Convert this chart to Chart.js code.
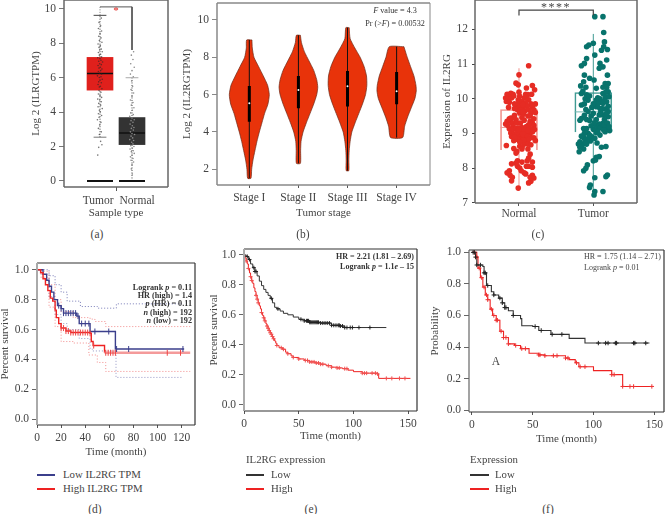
<!DOCTYPE html>
<html>
<head>
<meta charset="utf-8">
<script src="https://cdn.jsdelivr.net/npm/chart.js@4"></script>
<style>
  html, body { margin:0; padding:0; background:#fff; overflow:hidden; }
  body { width:669px; height:514px; position:relative; font-family:"Liberation Serif",serif; color:#444; }
  canvas { position:absolute; }
  .t { position:absolute; white-space:nowrap; font-size:10.8px; line-height:14px; transform:translateY(-50%); }
  .c { transform:translate(-50%,-50%); }
  .r { transform:translate(-100%,-50%); }
  .n { font-size:8.2px; line-height:10px; }
  .b { font-weight:bold; color:#333; }
  .sw { position:absolute; height:1.5px; }
</style>
</head>
<body>
<canvas id="a"></canvas><canvas id="b"></canvas><canvas id="c"></canvas>
<canvas id="d"></canvas><canvas id="e"></canvas><canvas id="f"></canvas>

<div class="t c" style="left:97px;top:234px;font-size:11.5px">(a)</div>
<div class="t c" style="left:303px;top:234px;font-size:11.5px">(b)</div>
<div class="t c" style="left:538px;top:234px;font-size:11.5px">(c)</div>
<div class="t c" style="left:95px;top:509px;font-size:11.5px">(d)</div>
<div class="t c" style="left:311px;top:509px;font-size:11.5px">(e)</div>
<div class="t c" style="left:548px;top:509px;font-size:11.5px">(f)</div>

<div class="t c" style="left:116px;top:10px;color:#e0201c;font-size:11px">*</div>
<div class="t n c" style="left:395px;top:11px;color:#333"><i>F</i> value = 4.3</div>
<div class="t n c" style="left:395px;top:24px;color:#333">Pr (&gt;<i>F</i>) = 0.00532</div>
<div class="t c" style="left:556px;top:7px;font-size:12px;letter-spacing:1.5px">****</div>

<div class="t n b r" style="left:192px;top:288px">Logrank <i>p</i> = 0.11</div>
<div class="t n b r" style="left:192px;top:296px">HR (high) = 1.4</div>
<div class="t n b r" style="left:192px;top:304px"><i>p</i> (HR) = 0.11</div>
<div class="t n b r" style="left:192px;top:313px"><i>n</i> (high) = 192</div>
<div class="t n b r" style="left:192px;top:321px"><i>n</i> (low) = 192</div>
<div class="t n b r" style="left:414px;top:257px;font-size:8px">HR = 2.21 (1.81 – 2.69)</div>
<div class="t n b r" style="left:414px;top:267px;font-size:8px">Logrank <i>p</i> = 1.1<i>e</i> – 15</div>
<div class="t n" style="left:584px;top:257px;font-size:8px">HR = 1.75 (1.14 – 2.71)</div>
<div class="t n" style="left:584px;top:268px;font-size:8px">Logrank <i>p</i> = 0.01</div>
<div class="t c" style="left:496px;top:361px;font-size:11.5px">A</div>

<div class="sw" style="left:37px;top:474px;width:18px;background:#3b3f8c"></div>
<div class="t" style="left:63px;top:474px">Low IL2RG TPM</div>
<div class="sw" style="left:37px;top:488px;width:18px;background:#ee2222"></div>
<div class="t" style="left:63px;top:488px">High IL2RG TPM</div>

<div class="t" style="left:246px;top:459px">IL2RG expression</div>
<div class="sw" style="left:246px;top:474px;width:18px;background:#333"></div>
<div class="t" style="left:271px;top:474px">Low</div>
<div class="sw" style="left:246px;top:488px;width:18px;background:#ee2222"></div>
<div class="t" style="left:271px;top:488px">High</div>

<div class="t" style="left:470px;top:459px">Expression</div>
<div class="sw" style="left:470px;top:474px;width:19px;background:#333"></div>
<div class="t" style="left:495px;top:474px">Low</div>
<div class="sw" style="left:470px;top:488px;width:19px;background:#ee2222"></div>
<div class="t" style="left:495px;top:488px">High</div>

<script>
// (a) box plot
const aGroups = [1, 2];
const aQ1 = [5.27, 2.11];
const aQ3 = [7.17, 3.68];
const aMedian = [6.24, 2.79];
const aWhiskerHigh = [9.61, 5.99];
const aWhiskerLow = [2.54, 0];
const aTumorDots = [[1.04,9.45],[.97,9.2],[1.02,9.0],[.95,8.85],[1.05,8.7],[1,8.55],[.96,8.4],[1.03,8.3],[.98,8.15],[1.06,8.05],[.94,7.95],[1.01,7.85],
  [.97,7.75],[1.04,7.65],[.99,7.6],[1.07,7.5],[.95,7.45],[1.02,7.35],[.98,7.3],[1.05,7.2],[.93,7.15],[1,7.1],[1.03,7.0],[.96,6.95],[1.08,6.9],[.99,6.8],
  [1.04,6.75],[.94,6.7],[1.01,6.6],[.97,6.55],[1.06,6.5],[1.02,6.4],[.95,6.35],[.99,6.25],[1.05,6.2],[.92,6.1],[1.03,6.05],[.98,6.0],[1.07,5.9],[1,5.85],
  [.96,5.75],[1.04,5.7],[.94,5.6],[1.01,5.5],[.98,5.45],[1.06,5.35],[.97,5.25],[1.03,5.15],[.95,5.05],[1,4.95],[1.05,4.85],[.93,4.75],[.99,4.7],[1.04,4.6],
  [.96,4.5],[1.02,4.4],[.94,4.3],[1.07,4.2],[.98,4.1],[1.01,4.0],[.95,3.9],[1.05,3.8],[.97,3.7],[.92,3.55],[1.03,3.4],[.99,3.25],[.95,3.05],[1.04,2.85],
  [.98,2.7],[1.02,2.3],[1.06,2.1],[.96,1.95],[.93,1.5]];
const aNormalDots = [[2.05,7.5],[1.98,7.3],[2.03,7.05],[1.96,6.8],[2.07,6.6],[2,6.4],[1.95,6.2],[2.04,6.05],[1.99,5.8],[2.02,5.5],[1.97,5.3],[2.05,5.1],
  [2,4.9],[1.95,4.7],[2.03,4.55],[1.98,4.4],[2.06,4.25],[2.01,4.1],[1.96,3.95],[2.04,3.85],[1.93,3.75],[2,3.65],[2.07,3.55],[1.97,3.5],[2.03,3.4],[1.94,3.3],
  [2.01,3.2],[2.06,3.1],[1.98,3.05],[2.04,2.95],[1.95,2.85],[2,2.75],[2.08,2.7],[1.97,2.6],[2.02,2.5],[1.93,2.4],[2.05,2.35],[1.99,2.25],[2.03,2.15],[1.96,2.05],
  [2.06,2.0],[2.01,1.9],[1.94,1.85],[2.04,1.75],[1.98,1.7],[2.07,1.6],[2,1.5],[1.95,1.4],[2.03,1.3],[1.97,1.2],[2.05,1.1],[2,.95],[1.98,.7],[2.01,.4]];

// (b) violins: each one is a list of levels with half widths
const bStages = [1, 2, 3, 4];
const bStageLabels = ['Stage I', 'Stage II', 'Stage III', 'Stage IV'];
const bLevels1 = [8.93,8.5,8,7.5,7,6.5,6,5.5,5,4.5,4,3.5,3,2.5,2,1.52];
const bWidths1 = [.054,.061,.095,.19,.285,.373,.407,.38,.312,.258,.204,.156,.115,.075,.048,.034];
const bLevels2 = [9.18,8.8,8.3,7.8,7.3,6.8,6.4,6,5.5,5,4.5,4,3.5,3,2.32];
const bWidths2 = [.041,.061,.122,.217,.312,.373,.394,.373,.312,.238,.163,.095,.054,.045,.041];
const bLevels3 = [9.59,9,8.5,8,7.5,7,6.5,6,5.5,5,4.5,4,3.5,3,2.5,1.93];
const bWidths3 = [.034,.054,.149,.258,.339,.387,.394,.367,.305,.231,.156,.088,.054,.034,.027,.027];
const bLevels4 = [8.57,8,7.5,7,6.5,6.2,5.8,5.3,4.8,4.3,3.7];
const bWidths4 = [.149,.217,.285,.353,.394,.4,.373,.299,.224,.163,.122];
const bBoxLow = [4.55, 5.27, 5.36, 5.48];
const bBoxHigh = [6.46, 7.0, 7.27, 7.21];
const bMedian = [5.54, 6.25, 6.45, 6.18];

// (c) jittered box plot
const cGroups = [1, 2];
const cGroupLabels = ['Normal', 'Tumor'];
const cQ1 = [8.52, 9.03];
const cQ3 = [9.69, 10.18];
const cMedian = [9.17, 9.62];
const cWhiskerHigh = [10.88, 11.87];
const cWhiskerLow = [7.35, 7.2];
const cNormal = [[1.13,10.95],[1,10.69],[.96,10.45],[.99,10.4],[1.18,10.38],[1.1,10.31],[1.21,10.26],[.84,10.13],[.89,10.16],[.92,10.13],[1,10.19],[1.01,10.07],
  [1.09,10.13],[1.12,10.12],[1.17,10.13],[.82,10.02],[.86,10.04],[.9,10.02],[.99,9.97],[1.07,10.02],[1.09,10.04],[1.13,9.97],[.83,9.92],[.87,9.9],[1,9.88],[1.04,9.92],
  [1.09,9.88],[1.16,9.85],[1.22,9.85],[.96,9.78],[1.01,9.78],[1.06,9.78],[1.11,9.78],[1.18,9.78],[.98,9.68],[1.03,9.68],[1.08,9.65],[1.13,9.68],[1.2,9.68],[1.01,9.59],
  [1.06,9.56],[1.16,9.59],[.89,9.44],[.93,9.46],[1.04,9.46],[.96,9.39],[.84,9.35],[.88,9.37],[.91,9.3],[.82,9.27],[.85,9.23],[.92,9.2],[.97,9.3],[1.02,9.3],[1.15,9.35],
  [1.18,9.3],[1.13,9.25],[1.2,9.23],[.87,9.13],[.91,9.11],[.96,9.13],[1.04,9.17],[1.16,9.13],[1.21,9.11],[.89,9.01],[.93,8.98],[1.03,9.04],[1.09,9.01],[1.15,9.01],
  [1.18,9.04],[.9,8.91],[1,8.91],[1.06,8.91],[1.11,8.91],[1.16,8.88],[1.02,8.82],[1.09,8.79],[1.13,8.82],[1.2,8.87],[1.22,8.79],[.93,8.79],[.83,8.65],[1.07,8.69],
  [1.12,8.69],[1.16,8.67],[1.01,8.63],[1.04,8.6],[.93,8.56],[.97,8.48],[1.04,8.55],[.96,8.43],[1.15,8.4],[1.13,8.29],[1.11,8.21],[.98,8.21],[1.04,8.17],[1.18,8.17],
  [.9,8.12],[.96,8.14],[.98,8.05],[1.01,8],[1.1,8.05],[1.13,8.05],[1.03,7.92],[.87,7.92],[.84,7.86],[1.18,8.02],[1.07,7.86],[1.18,7.79],[.88,7.79],[.91,7.73],[1.15,7.73],
  [1.2,7.71],[.9,7.63],[1.09,7.83],[1.16,7.62],[1.13,7.57],[.99,7.42],
  [.86,9.75],[.94,9.72],[1.05,9.62],[1.12,9.5],[.94,9.52],[1.07,9.38],[1.1,9.2],[.99,9.15],[1.07,9.1],[1.12,9.08],[.97,9.02],[1,9.1],[1.05,8.99],[1.2,9.42],[1.15,9.5],
  [.87,9.42],[.98,8.83],[1.06,8.8],[.94,8.9],[1.22,9.6],[.93,10.08],[1.05,9.83],[.94,9.85],[1.01,8.75],[1.12,8.55]];
const cTumor = [[2.02,12.37],[2.13,12.37],[2.14,11.91],[2.15,11.64],[1.91,11.5],[1.94,11.55],[2,11.6],[2.11,11.4],[2.19,11.42],[2.14,11.5],[2.02,11.26],[1.91,11.16],
  [1.88,11.02],[1.84,10.95],[2.18,11.12],[2.09,11.02],[2.13,10.92],[2.08,10.88],[1.88,10.68],[2.19,10.68],[1.95,10.59],[2.01,10.54],[1.87,10.49],[1.83,10.37],[1.9,10.33],
  [2.16,10.44],[2.2,10.44],[2.04,10.3],[2.13,10.33],[2.18,10.33],[1.84,10.15],[1.91,10.11],[1.89,10],[2.13,10.15],[2.2,10.2],[2.09,10],[2.16,10.06],[2.21,10.06],[1.93,9.96],
  [2.04,9.96],[2.18,9.91],[2.13,9.87],[1.84,9.82],[1.98,9.75],[2.04,9.77],[2.09,9.72],[1.9,9.69],[2.2,9.63],[1.93,9.63],[2,9.58],[2.08,9.53],[2.13,9.53],[1.84,9.43],[1.91,9.4],
  [2.2,9.48],[1.82,9.38],[2.04,9.4],[1.95,9.37],[2.13,9.29],[2.08,9.27],[1.87,9.14],[1.91,9.14],[2,9.12],[2.11,9.19],[2.18,9.14],[2.22,9.08],[2.16,9.05],[2.04,9.02],[1.93,9],
  [1.98,8.9],[2.09,8.95],[2.02,8.86],[1.87,8.88],[1.82,8.76],[1.91,8.81],[1.86,8.69],[1.8,8.69],[1.91,8.69],[1.84,8.62],[1.81,8.47],[1.87,8.55],[2.11,8.6],[2.17,8.62],
  [2.08,8.33],[2.04,8.31],[2,8.21],[2.03,8.23],[1.92,8.09],[1.9,7.99],[1.87,7.92],[2.19,7.8],[2.17,7.75],[2.02,7.72],[1.96,7.51],[1.95,7.44],[2.13,7.32],[2.02,7.32],[2.01,7.22],
  [2.1,9.9],[2.15,9.95],[2.06,9.85],[2.16,9.7],[2.12,9.15],[1.97,9.5],[2.06,9.15],[1.95,8.95],[2.15,9.4],[2.1,9.6],
  [1.86,10.22],[1.95,10.08],[2.06,10.03],[2.17,10.2],[2.2,9.78],[1.88,9.85],[2.0,9.85],[2.12,9.72],[1.88,9.52],[2.17,9.55],[2.03,9.25],[1.97,9.22],[2.14,9.1],[2.06,9.05],[1.88,9],
  [1.84,8.92],[1.96,8.78],[1.89,8.78],[2.15,9.25],[2.19,9.3],[1.82,8.6],[2.05,8.72],[2.21,9.2],[1.93,8.85],[2.01,9.3]];

// (d) survival, time in months
const dLow = [[0,1],[5,.97],[8,.93],[10,.89],[12,.85],[14,.8],[17,.76],[20,.74],[22,.71],[33,.69],[35,.64],[44,.587],[65,.47],[122,.47]];
const dHigh = [[0,1],[3,.98],[5,.94],[7,.9],[9,.86],[11,.81],[13,.79],[15,.73],[16,.68],[18,.64],[20,.61],[24,.59],[28,.58],[44,.575],[45,.52],[46.5,.493],[56,.445],[127,.445]];
const dLowUpper = [[3,1],[10,.96],[15,.9],[20,.85],[25,.79],[36,.754],[50,.743],[65.8,.772],[120,.772]];
const dLowLower = [[3,.97],[10,.82],[15,.7],[20,.64],[25,.6],[35,.54],[44,.47],[46,.457],[65.5,.28],[120,.28]];
const dHighUpper = [[3,.99],[10,.9],[15,.8],[20,.72],[30,.68],[44,.67],[48,.654],[57,.62],[127,.62]];
const dHighLower = [[3,.95],[10,.75],[15,.62],[20,.52],[30,.51],[43,.43],[50,.38],[57,.32],[127,.32]];
const dLowCensor = [18,20,22,24,26,28,30,32,34,37,40,43,48,59.5,66,76,121];
const dHighCensor = [20,22,24,26,28,30,32,34,36,38,40,42,44,47,57,59,61,63,65,108,119];

// (e)
const eLow = [[0,1],[2,.99],[4,.97],[6,.94],[8,.915],[10,.89],[12,.86],[14,.825],[16,.795],[18,.77],[20,.75],[22,.73],[24,.71],[26,.68],[28,.65],[30,.64],[33,.625],[36,.61],[40,.6],[45,.585],[50,.57],[55,.56],[60,.55],[70,.545],[80,.53],[88,.525],[92,.515],[130,.515]];
const eHigh = [[0,1],[1,.98],[2,.96],[3,.94],[4,.91],[5,.88],[6,.855],[7,.83],[8,.81],[9,.78],[10,.755],[11,.73],[12,.705],[13,.68],[14,.66],[15,.64],[16,.615],[17,.595],[18,.58],[19,.56],[20,.54],[21,.525],[22,.51],[23,.495],[24,.48],[25,.47],[26,.455],[27,.44],[28,.425],[29,.41],[30,.395],[32,.38],[35,.37],[38,.35],[40,.34],[43,.325],[45,.315],[50,.305],[55,.295],[60,.285],[65,.278],[70,.27],[75,.26],[80,.25],[85,.245],[90,.24],[95,.23],[100,.22],[108,.21],[122,.205],[123,.175],[152,.175]];
const eLowCensor = [3,5,9,10,11,25,31,52,55,57,58,59,60,61,62,63,64,65,66,67,68,70,72,74,76,78,80,82,84,86,87,88,90,92,94,97,99,105,115];
const eHighCensor = [2,4,6,7,11,12,13,16,18,19,21,22,23,24,25,26,27,30,34,36,40,45,50,56,58,60,62,64,66,68,70,72,77,80,85,87,92,94,108,110,112,117,120,122,130,135,142,147];

// (f)
const fLow = [[0,1],[3,.97],[4,.92],[9,.91],[10,.87],[12,.79],[16,.75],[18,.73],[22,.71],[25,.68],[27,.65],[30,.63],[34,.6],[40,.58],[41,.535],[50,.53],[55,.505],[65,.48],[80,.455],[93,.425],[146,.425]];
const fHigh = [[0,1],[4,.97],[5,.9],[7,.84],[9,.78],[11,.73],[13,.7],[15,.64],[17,.6],[20,.57],[23,.5],[26,.46],[30,.42],[35,.41],[40,.39],[47,.36],[55,.35],[60,.345],[77,.33],[80,.32],[85,.3],[88,.275],[100,.25],[115,.225],[124,.15],[148,.15]];
const fLowCensor = [1,2,3,4,7,10,11,13,18,23,25,27,28,34,52,57,66,74,104,110,112,118,119,133,134,143];
const fHighCensor = [2,4,6,8,10,12,13,16,18,20,21,24,26,28,30,36,41,44,55,56,60,67,70,77,79,86,89,93,115,117,124,130,133,148];

const survivalTicks = [0, .2, .4, .6, .8, 1];
const FONT = { family:'"Liberation Serif",serif', size:11.5 };
const TITLE_FONT = { family:'"Liberation Serif",serif', size:11 };
const INK = '#444';

// border round the plot area, each side its own colour
const framePlugin = {
  id: 'frame',
  afterDatasetsDraw(chart, _, o) {
    const { ctx, chartArea: r } = chart;
    const side = (x1, y1, x2, y2, st) => {
      ctx.save();
      ctx.strokeStyle = st[0]; ctx.lineWidth = st[1];
      ctx.beginPath(); ctx.moveTo(x1, y1); ctx.lineTo(x2, y2); ctx.stroke();
      ctx.restore();
    };
    side(r.left, r.top, r.right, r.top, o.top);
    side(r.right, r.top, r.right, r.bottom, o.right);
    side(r.left, r.bottom, r.right, r.bottom, o.bottom);
    side(r.left, r.top, r.left, r.bottom, o.left);
  },
};

function axisX(cfg, h) {
  return {
    type: 'linear', min: cfg.min, max: cfg.max, offset: false,
    afterFit: s => { s.height = h; },
    afterBuildTicks: s => { s.ticks = cfg.ticks.map(v => ({ value: v })); },
    ticks: { autoSkip: false, maxRotation: 0, color: INK, font: FONT, padding: cfg.pad ?? 2,
             callback: (v, i) => cfg.labels ? cfg.labels[i] : v },
    grid: { offset: false, drawOnChartArea: false, tickLength: cfg.tick ?? 4, tickColor: cfg.tickColor ?? '#555' },
    border: { display: false },
    title: { display: !!cfg.title, text: cfg.title, color: INK, font: TITLE_FONT, padding: 0 },
  };
}
function axisY(cfg, w) {
  return {
    type: 'linear', min: cfg.min, max: cfg.max,
    afterFit: s => { s.width = w; },
    afterBuildTicks: s => { s.ticks = cfg.ticks.map(v => ({ value: v })); },
    ticks: { autoSkip: false, color: INK, font: FONT, padding: cfg.pad ?? 3,
             callback: v => cfg.digits ? v.toFixed(cfg.digits) : v },
    grid: { drawOnChartArea: false, tickLength: cfg.tick ?? 5, tickColor: cfg.tickColor ?? '#777' },
    border: { display: false },
    title: { display: true, text: cfg.title, color: INK, font: TITLE_FONT, padding: 0 },
  };
}

// box = the canvas on the page, plot = the wanted plot area on the page
function panel(id, box, plot, xCfg, yCfg, frame, datasets) {
  const el = document.getElementById(id);
  el.width = box.r - box.l; el.height = box.b - box.t;
  el.style.left = box.l + 'px'; el.style.top = box.t + 'px';
  el.style.width = el.width + 'px'; el.style.height = el.height + 'px';
  return new Chart(el, {
    type: 'scatter',
    data: { datasets },
    plugins: [framePlugin],
    options: {
      responsive: false, animation: false,
      layout: { padding: { left: 0, top: plot.t - box.t, right: box.r - plot.r, bottom: 0 } },
      plugins: { legend: { display: false }, tooltip: { enabled: false }, frame },
      scales: { x: axisX(xCfg, box.b - plot.b), y: axisY(yCfg, plot.l - box.l) },
    },
  });
}

const line = (data, color, width, extra) => ({ data, showLine: true, pointRadius: 0, borderColor: color, borderWidth: width, ...extra });
const dots = (data, color, r, extra) => ({ data, pointRadius: r, pointBorderWidth: 0, pointBackgroundColor: color, showLine: false, ...extra });
const boxes = (xs, lo, hi, extra) => ({ type: 'bar', grouped: false, data: xs.map((x, i) => ({ x, y: [lo[i], hi[i]] })), ...extra });
const stepAt = (curve, t) => { let s = curve[0][1]; for (const p of curve) if (p[0] <= t) s = p[1]; return s; };
const marks = (curve, times, color, style, extra) => ({
  data: times.map(t => [t, stepAt(curve, t)]), showLine: false,
  pointStyle: style, pointRadius: 3, pointBorderColor: color, pointBorderWidth: 1, pointBackgroundColor: color, ...extra,
});
const hcaps = (xs, ys, half) => xs.map((x, i) => [[x - half, ys[i]], [x + half, ys[i]], [NaN, NaN]]).flat();
const vbars = (xs, lo, hi) => xs.map((x, i) => [[x, lo[i]], [x, hi[i]], [NaN, NaN]]).flat();

// (a)
panel('a', { l:30, t:-14, r:185, b:220 }, { l:64, t:0, r:168, b:187 },
  { min:-.125, max:3.125, ticks:[.94, 1.5, 2.16], labels:['Tumor', '', 'Normal'], title:'Sample type', tick:4, pad:3,
    tickColor: c => c.index === 1 ? '#555' : 'rgba(0,0,0,0)' },
  { min:-.35, max:10.5, ticks:[0, 2, 4, 6, 8, 10], title:'Log 2 (ILRGTPM)' },
  { top:['#666', 1.5], right:['#666', 1.5], bottom:['#666', 1.5], left:['#666', 1.5] },
  [
    dots(aTumorDots, 'rgba(40,40,40,.65)', .8),
    dots(aNormalDots, '#8a8a8a', .8),
    line(hcaps(aGroups, aMedian, .406), '#111', 1.5),
    line(hcaps(aGroups, [0, 0], .406), '#111', 2),
    boxes(aGroups, aQ1, aQ3, { backgroundColor:['#e0201c', '#333'], barThickness:26 }),
    line(hcaps([1], [aWhiskerHigh[0]], .2), '#444', 1),
    line(hcaps([1], [aWhiskerLow[0]], .2), '#777', 1),
    line(hcaps([2], [aWhiskerHigh[1]], .2), '#aaa', 1),
    line(vbars(aGroups, aWhiskerLow, aWhiskerHigh), '#444', 1, { borderDash:[1, 1.5] }),
    line([[1, 9.61], [1, 10.1]], '#777', 1, { borderDash:[1, 1.5] }),
    line([[1, 10.1], [2, 10.1], [2, 7.6]], '#555', 1),
  ]);

// (b)
const violin = (x, levels, widths) => [
  ...levels.map((v, i) => [x + widths[i], v]),
  ...levels.map((v, i) => [x - widths[i], v]).reverse(),
  [x + widths[0], levels[0]],
];
const bTops = [bLevels1[0], bLevels2[0], bLevels3[0], bLevels4[0]];
const bEnds = [bLevels1.at(-1), bLevels2.at(-1), bLevels3.at(-1), bLevels4.at(-1)];
panel('b', { l:181, t:-14, r:445, b:220 }, { l:217, t:3, r:430, b:185 },
  { min:.342, max:4.68, ticks:bStages, labels:bStageLabels, title:'Tumor stage', tick:3, pad:3 },
  { min:1.16, max:10.91, ticks:[2, 4, 6, 8, 10], title:'Log 2 (IL2RGTPM)', digits:0, tickColor:'#888' },
  { top:['#888', 1.5], right:['#888', 0], bottom:['#888', 1.5], left:['#888', 1.5] },
  [
    dots(bStages.map((x, i) => [x, bMedian[i]]), '#fff', 1),
    line(vbars(bStages, bBoxLow, bBoxHigh), '#000', 3),
    line(vbars(bStages, bEnds, bTops), '#111', 1),
    ...[[1, bLevels1, bWidths1], [2, bLevels2, bWidths2], [3, bLevels3, bWidths3], [4, bLevels4, bWidths4]].map(([x, l, w]) =>
      line(violin(x, l, w), '#6b2a18', .7, { fill:'shape', backgroundColor:'#e8330a', tension:.2 })),
  ]);

// (c)
panel('c', { l:441, t:-14, r:655, b:222 }, { l:475, t:0, r:637, b:203 },
  { min:.408, max:2.588, ticks:cGroups, labels:cGroupLabels, tick:3, pad:1 },
  { min:6.99, max:12.85, ticks:[7, 8, 9, 10, 11, 12], title:'Expression of IL2RG', pad:4, tick:3, tickColor:'#444' },
  { top:['#666', 1.5], right:['#666', 1.5], bottom:['#666', 1.5], left:['#666', 1.5] },
  [
    line([[1, 12.4], [1, 12.56], [2, 12.56], [2, 12.4]], '#444', 1.2),
    dots(cNormal, '#e62c24', 2.8),
    dots(cTumor, '#08736c', 2.8),
    line(hcaps([1], [cMedian[0]], .25), '#f09a95', 1),
    line(hcaps([2], [cMedian[1]], .25), '#6fb5af', 1),
    line(vbars([1], [cWhiskerLow[0]], [cWhiskerHigh[0]]), '#f0908a', 1),
    line(vbars([2], [cWhiskerLow[1]], [cWhiskerHigh[1]]), '#3f9a93', 1),
    boxes(cGroups, cQ1, cQ3, { backgroundColor:'rgba(255,255,255,0)', borderColor:['#f0908a', '#3f9a93'], borderWidth:1, barThickness:37 }),
  ]);

// (d)
const survAxis = title => ({ min:-.038, max:1.045, ticks:survivalTicks, title, digits:1, tickColor:'#666' });
panel('d', { l:-1, t:250, r:212, b:459 }, { l:37, t:263, r:195, b:425 },
  { min:0, max:131, ticks:[0, 20, 40, 60, 80, 100, 120], title:'Time (month)', tick:3, pad:3 },
  survAxis('Percent survival'),
  { top:['#333', 1.2], right:['#333', 1.2], bottom:['#333', 1.2], left:['#aaa', 2] },
  [
    marks(dHigh, dHighCensor, '#ee4444', 'line', { rotation:90 }),
    marks(dLow, dLowCensor, '#3b3f8c', 'line', { rotation:90 }),
    line(dHigh, '#ee2222', 1.4, { stepped:true, segment:{ borderColor: c => c.p0.parsed.x >= 56 ? '#f49a9a' : undefined, borderWidth: c => c.p0.parsed.x >= 56 ? 2.5 : undefined } }),
    line(dLow, '#3b3f8c', 1.4, { stepped:true }),
    line(dLowUpper, '#6a6db0', .9, { stepped:true, borderDash:[1, 2] }),
    line(dLowLower, '#8a8cc0', .9, { stepped:true, borderDash:[1, 2] }),
    line(dHighUpper, '#f08080', .9, { stepped:true, borderDash:[1, 2] }),
    line(dHighLower, '#f08080', .9, { stepped:true, borderDash:[1, 2] }),
  ]);

// (e)
panel('e', { l:208, t:236, r:432, b:443 }, { l:244, t:249, r:417, b:411 },
  { min:0, max:158, ticks:[0, 50, 100, 150], title:'Time (month)', tick:3, pad:3 },
  { min:-.043, max:1.04, ticks:survivalTicks, title:'Percent survival', digits:1, tickColor:'#666' },
  { top:['#333', 1.2], right:['#333', 1.2], bottom:['#333', 1.2], left:['#aaa', 2] },
  [
    marks(eLow, eLowCensor, '#222', 'cross', { pointRadius:2 }),
    marks(eHigh, eHighCensor, '#f05050', 'cross', { pointRadius:2 }),
    line(eLow, '#333', 1, { stepped:true }),
    line(eHigh, '#ee2222', 1, { stepped:true }),
  ]);

// (f)
panel('f', { l:429, t:236, r:669, b:446 }, { l:469, t:250, r:668, b:412 },
  { min:-2.4, max:158, ticks:[0, 50, 100, 150], title:'Time (month)', tick:3, pad:3 },
  { min:-.012, max:1.015, ticks:survivalTicks, title:'Probability', digits:1, tickColor:'#666' },
  { top:['#333', 1.2], right:['#333', 1.2], bottom:['#333', 1.2], left:['#666', 1.2] },
  [
    marks(fLow, fLowCensor, '#222', 'cross', { pointRadius:2.2 }),
    marks(fHigh, fHighCensor, '#ee3333', 'cross', { pointRadius:2.2 }),
    line(fLow, '#333', 1.1, { stepped:true }),
    line(fHigh, '#ee2222', 1.1, { stepped:true }),
  ]);
</script>
</body>
</html>
